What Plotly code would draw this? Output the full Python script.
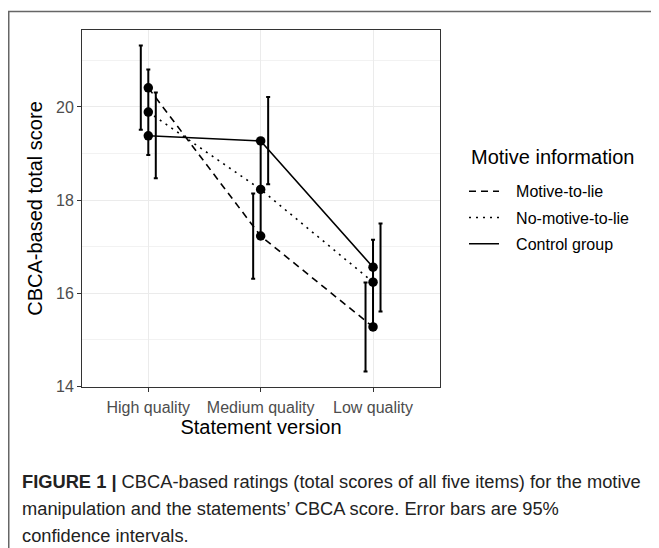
import plotly.graph_objects as go

# ---------------- data ----------------
categories = ["High quality", "Medium quality", "Low quality"]
groups = ["Motive-to-lie", "No-motive-to-lie", "Control group"]
legend_title = "Motive information"

motive_mean = [20.41, 17.23, 15.28]
motive_lo = [19.51, 16.31, 14.32]
motive_hi = [21.32, 18.14, 16.23]

nomotive_mean = [19.89, 18.23, 16.24]
nomotive_lo = [18.97, 17.22, 15.32]
nomotive_hi = [20.80, 19.25, 17.15]

control_mean = [19.38, 19.27, 16.56]
control_lo = [18.47, 18.34, 15.61]
control_hi = [20.31, 20.21, 17.50]

y_ticks = [14, 16, 18, 20]

caption_lines = [
    "<b>FIGURE 1 |</b> CBCA-based ratings (total scores of all five items) for the motive",
    "manipulation and the statements’ CBCA score. Error bars are 95%",
    "confidence intervals.",
]

# ---------------- layout helpers (page pixel coordinates) ----------------
OFF = 8                      # browser body margin
W, H = 659 - OFF, 548 - OFF
PL, PR, PT, PB = 82, 440, 29.5, 387   # panel in page pixels


def px_x(px):
    return (px - PL) / (PR - PL)


def px_y(py):
    return (PB - py) / (PB - PT)


series = [
    (groups[0], motive_mean, motive_lo, motive_hi, "7px,5px", -1),
    (groups[1], nomotive_mean, nomotive_lo, nomotive_hi, "2px,5px", 0),
    (groups[2], control_mean, control_lo, control_hi, "solid", 1),
]
dodge = 0.0667
xs = list(range(len(categories)))
PAD = "\u00a0\u00a0\u2009"   # gap between legend key and label

fig = go.Figure()
for name, mean, lo, hi, dash, k in series:
    fig.add_trace(go.Scatter(
        x=xs, y=mean, mode="lines", name=PAD + name, legendgroup=name,
        line=dict(color="black", width=1.6, dash=dash),
        showlegend=True,
    ))
for name, mean, lo, hi, dash, k in series:
    fig.add_trace(go.Scatter(
        x=[x + k * dodge for x in xs],
        y=mean, mode="markers", marker=dict(size=0.1, color="rgba(0,0,0,0)"),
        error_y=dict(type="data", symmetric=False,
                     array=[h - m for h, m in zip(hi, mean)],
                     arrayminus=[m - l for m, l in zip(mean, lo)],
                     color="black", thickness=2, width=2),
        showlegend=False, hoverinfo="skip", legendgroup=name,
    ))
for name, mean, lo, hi, dash, k in series:
    fig.add_trace(go.Scatter(
        x=xs, y=mean, mode="markers",
        marker=dict(size=9.5, color="black"),
        showlegend=False, legendgroup=name,
    ))

FONT = "Liberation Sans, Arial, sans-serif"
axis_font = dict(family=FONT, size=16, color="#4d4d4d")
title_font = dict(family=FONT, size=20, color="black")

fig.update_xaxes(
    range=[-0.59, 2.596], tickmode="array", tickvals=xs, ticktext=categories,
    showgrid=True, gridcolor="#ebebeb", gridwidth=1.1,
    ticks="outside", ticklen=4, tickcolor="#333333", tickwidth=1,
    tickfont=axis_font, zeroline=False, ticklabelstandoff=2,
    showline=True, linecolor="#333333", linewidth=1, mirror=True,
    title=dict(text="Statement version", font=title_font, standoff=0),
)
fig.update_yaxes(
    range=[13.99, 21.65], tickmode="array", tickvals=y_ticks,
    showgrid=True, gridcolor="#ebebeb", gridwidth=1.1,
    minor=dict(dtick=1, tick0=13, showgrid=True, gridcolor="#f2f2f2", gridwidth=0.6),
    ticks="outside", ticklen=4, tickcolor="#333333", tickwidth=1,
    tickfont=axis_font, zeroline=False,
    showline=True, linecolor="#333333", linewidth=1, mirror=True,
    title=dict(text="CBCA-based total score", font=title_font, standoff=8),
)

# outer frame (top and left edges)
fig.add_shape(type="line", xref="paper", yref="paper",
              x0=px_x(8.75), x1=px_x(8.75), y0=px_y(560), y1=px_y(11),
              line=dict(color="#666666", width=1.5))
fig.add_shape(type="line", xref="paper", yref="paper",
              x0=px_x(8), x1=px_x(670), y0=px_y(11), y1=px_y(11),
              line=dict(color="#666666", width=1.5))

for i, line in enumerate(caption_lines):
    fig.add_annotation(
        xref="paper", yref="paper", x=px_x(20), y=px_y(482 + 27 * i),
        xanchor="left", yanchor="middle", align="left", showarrow=False,
        text=line,
        font=dict(family=FONT, size=18.3, color="#222222"),
    )

# legend title
fig.add_annotation(
    xref="paper", yref="paper", x=px_x(469), y=px_y(157),
    xanchor="left", yanchor="middle", showarrow=False,
    text=legend_title, font=dict(family=FONT, size=20, color="black"),
)

fig.update_layout(
    width=W, height=H,
    margin=dict(l=PL - OFF, r=W - (PR - OFF), t=PT - OFF, b=H - (PB - OFF)),
    paper_bgcolor="white", plot_bgcolor="white",
    showlegend=True,
    legend=dict(
        x=px_x(464), y=px_y(174), xanchor="left", yanchor="top",
        font=dict(family=FONT, size=16, color="black"),
        itemwidth=30, bgcolor="rgba(0,0,0,0)",
        traceorder="grouped", tracegroupgap=2.5,
    ),
)

fig.write_html("out.html")
